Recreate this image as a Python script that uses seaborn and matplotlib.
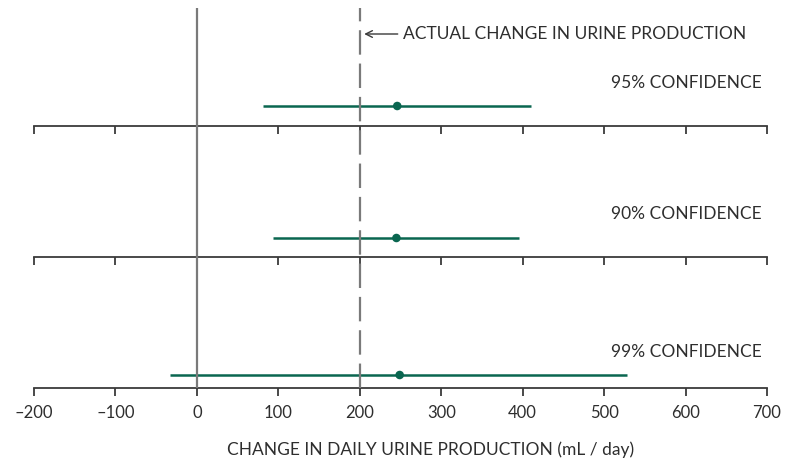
import matplotlib
matplotlib.use("Agg")
import matplotlib.pyplot as plt
import seaborn as sns
import pandas as pd

# Point estimates and confidence intervals (mL/day)
levels = ["95% CONFIDENCE", "90% CONFIDENCE", "99% CONFIDENCE"]
estimates = [246, 245, 249]
lower = [81, 94, -33]
upper = [410, 396, 528]
actual_change = 200
tick_values = [-200, -100, 0, 100, 200, 300, 400, 500, 600, 700]
tick_labels = ["\u2013200", "\u2013100", "0", "100", "200", "300", "400", "500", "600", "700"]
x_title = "CHANGE IN DAILY URINE PRODUCTION (mL / day)"
actual_label = "ACTUAL CHANGE IN URINE PRODUCTION"

df = pd.DataFrame({"level": levels, "estimate": estimates, "lower": lower, "upper": upper})

sns.set_theme(style="ticks")
plt.rcParams["font.family"] = ["Lato", "DejaVu Sans"]

GREEN = "#0a6650"
AXIS = "#3a3a3a"
TEXT = "#2e2e2e"
REF = "#7a7a7a"

W, H = 795, 458
fig = plt.figure(figsize=(W / 100, H / 100), dpi=100)
left = 34 / W
width = 733 / W
xlim = (-200, 700)

# layout of the three stacked panels (pixel offsets from the image top)
axis_px = [126, 257, 388]
row_h = 114
point_px = [20, 19, 13]
label_px = [43, 43, 36]

for i, row in df.iterrows():
    ax = fig.add_axes([left, (H - axis_px[i]) / H, width, row_h / H])
    ax.set_xlim(*xlim)
    ax.set_ylim(0, row_h)
    ax.patch.set_alpha(0)
    sns.despine(ax=ax, left=True, top=True, right=True)
    ax.spines["bottom"].set_color(AXIS)
    ax.spines["bottom"].set_linewidth(1.3)
    ax.set_yticks([])
    ax.set_xticks(tick_values)
    ax.tick_params(axis="x", direction="out", length=5.5, width=1.3, color=AXIS,
                   labelsize=12, labelcolor=TEXT, pad=7)
    ax.hlines(point_px[i], row["lower"], row["upper"], color=GREEN, lw=1.8, zorder=2)
    sns.scatterplot(x=[row["estimate"]], y=[point_px[i]], ax=ax, color=GREEN,
                    s=38, edgecolor="none", zorder=3, legend=False)
    ax.text(694, label_px[i], row["level"], ha="right", va="center",
            fontsize=12.5, color=TEXT)
    ax.set_xlabel("")
    ax.set_ylabel("")
    if i < len(df) - 1:
        ax.tick_params(labelbottom=False)
    else:
        ax.set_xticklabels(tick_labels)
        ax.set_xlabel(x_title, fontsize=12.5, color=TEXT)
        ax.xaxis.set_label_coords((431 - 34) / 733, -62 / row_h)
        ax.xaxis.label.set_va("center")

# reference lines spanning all panels
ov = fig.add_axes([left, (H - 388) / H, width, 380 / H], zorder=5)
ov.set_xlim(*xlim)
ov.set_ylim(0, 380)
ov.axis("off")
ov.axvline(0, color=REF, lw=1.6)
ov.axvline(actual_change, color=REF, lw=1.6, dashes=(11, 4))
ov.annotate("", xy=(actual_change + 2, 354), xytext=(250, 354),
            arrowprops=dict(arrowstyle="->", color=AXIS, lw=1.0))
ov.text(253, 354, actual_label, ha="left", va="center", fontsize=12.5, color=TEXT)

fig.savefig("out.png", dpi=100)
